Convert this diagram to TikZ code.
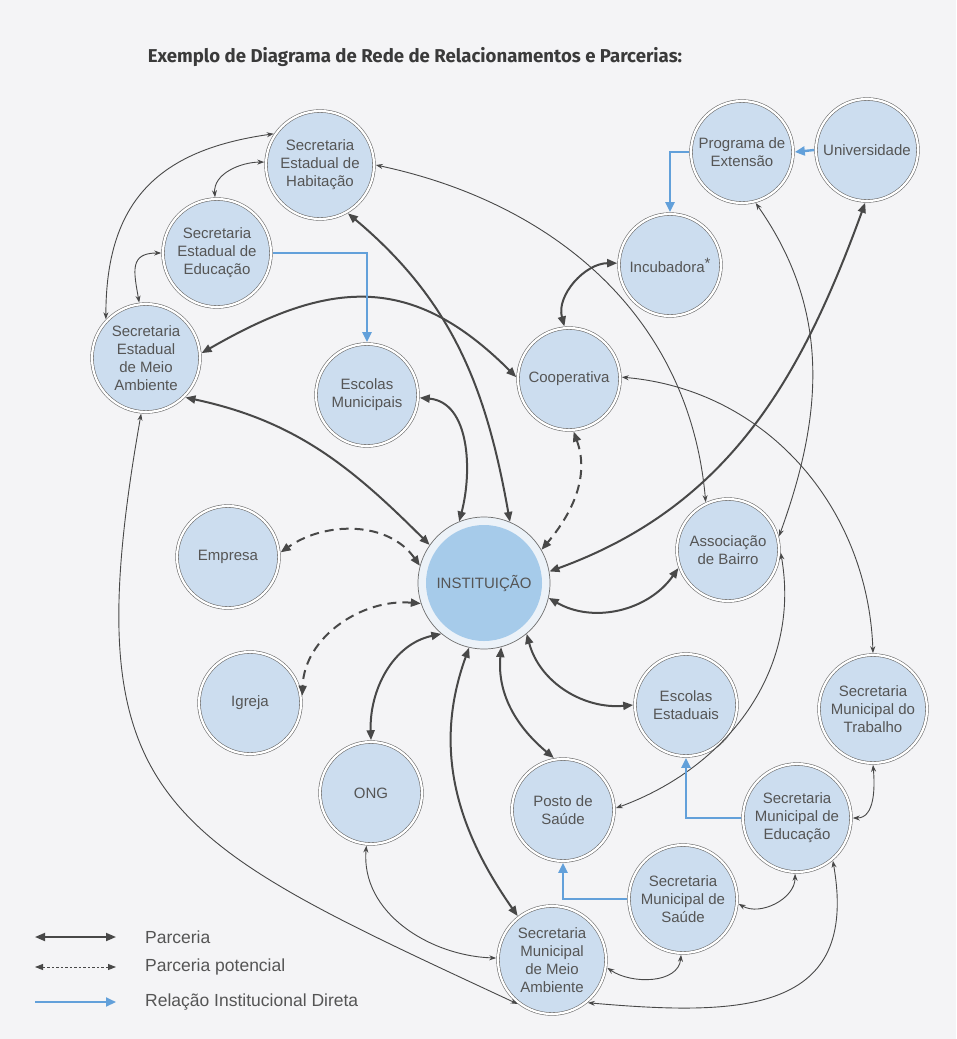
\documentclass[tikz,border=0pt]{standalone}
\usepackage{fontspec}
\setmainfont{Liberation Sans}
\newfontfamily\titlefont{Fira Sans}
\usetikzlibrary{arrows.meta}
\definecolor{bg}{RGB}{244,244,246}
\definecolor{nodefill}{RGB}{204,221,239}
\definecolor{instfill}{RGB}{166,203,234}
\definecolor{gapc}{RGB}{236,242,248}
\definecolor{ringc}{RGB}{110,110,110}
\definecolor{linec}{RGB}{72,72,72}
\definecolor{bluec}{RGB}{98,160,218}
\definecolor{txtc}{RGB}{85,85,85}
\definecolor{titc}{RGB}{58,58,58}
\tikzset{
  nd/.style={circle, draw=ringc, line width=0.6pt, double=white, double distance=2.2pt,
    fill=nodefill, minimum size=102pt, inner sep=0pt, outer sep=1.8pt, align=center,
    text=txtc, font=\fontsize{15}{18}\selectfont},
  sec/.style={nd, minimum size=108pt},
  pline/.style={draw=linec, line width=2pt, {Triangle[length=10pt,width=8pt]}-{Triangle[length=10pt,width=8pt]}},
  potline/.style={pline, dash pattern=on 9pt off 6pt},
  lnk/.style={draw=linec, line width=0.9pt, {Stealth[length=7pt,width=5pt]}-{Stealth[length=7pt,width=5pt]}},
  bline/.style={draw=bluec, line width=2.4pt, -{Triangle[length=10pt,width=9pt]}},
  legtxt/.style={anchor=west, text=txtc, font=\fontsize{17.5}{20}\selectfont, inner sep=0pt}
}
\begin{document}
\begin{tikzpicture}[x=1pt,y=1pt]
\fill[bg] (0,0) rectangle (956,-1039);
\useasboundingbox (0,0) rectangle (956,-1039);

\node[text=titc, font=\titlefont\bfseries\fontsize{18.6}{22}\selectfont] (title) at (415,-57) {Exemplo de Diagrama de Rede de Relacionamentos e Parcerias:};

% nodes
\node[sec] (hab) at (320,-165) {Secretaria\\Estadual de\\Habitação};
\node[sec] (seedu) at (217,-253) {Secretaria\\Estadual de\\Educação};
\node[sec] (sema) at (146,-358) {Secretaria\\Estadual\\de Meio\\Ambiente};
\node[nd] (em) at (367,-395) {Escolas\\Municipais};
\node[nd] (coop) at (569,-379) {Cooperativa};
\node[nd] (incub) at (670,-265) {Incubadora\raisebox{4pt}{*}};
\node[nd] (prog) at (742,-152) {Programa de\\Extensão};
\node[nd] (univ) at (867,-150) {Universidade};
\node[nd] (empresa) at (228,-557) {Empresa};
\node[circle, draw=ringc, line width=0.7pt, fill=gapc, minimum size=132pt, inner sep=0pt,
  outer sep=0.4pt, text=txtc, font=\fontsize{15}{18}\selectfont,
  path picture={\fill[instfill] (path picture bounding box.center) circle (58pt);}] (inst) at (484,-583) {INSTITUIÇÃO};
\node[nd] (assoc) at (728,-550) {Associação\\de Bairro};
\node[nd] (igreja) at (250,-703) {Igreja};
\node[nd] (ee) at (686,-705) {Escolas\\Estaduais};
\node[nd] (ong) at (371,-793) {ONG};
\node[nd] (posto) at (563,-810) {Posto de\\Saúde};
\node[sec] (smtrab) at (873,-709) {Secretaria\\Municipal do\\Trabalho};
\node[sec] (smedu) at (797,-818) {Secretaria\\Municipal de\\Educação};
\node[sec] (smsaude) at (683,-899) {Secretaria\\Municipal de\\Saúde};
\node[sec] (smma) at (552,-960) {Secretaria\\Municipal\\de Meio\\Ambiente};

% parcerias (thick)
\draw[pline] (em.-3) to[out=-5,in=75] (inst.112);
\draw[pline] (hab.-60) to[out=-40,in=100] (inst.67);
\draw[pline] (inst.10) to[out=20,in=-110] (univ.-92);
\draw[pline] (inst.-13) to[out=-30,in=-125] (assoc.-160);
\draw[pline] (inst.-50) to[out=-75,in=185] (ee.180);
\draw[pline] (inst.-75) to[out=-95,in=140] (posto.100);
\draw[pline] (inst.-103) to[out=-110,in=125] (smma.128);
\draw[pline] (inst.-130) to[out=-168,in=92] (ong.90);
\draw[pline] (sema.-45) to[out=-12,in=135] (inst.145);
\draw[pline] (sema.5) to[out=30,in=135,looseness=1.2] (coop.178);
\draw[pline] (coop.95) to[out=105,in=180] (incub.178);

% parcerias potenciais (dashed)
\draw[potline] (coop.-85) to[out=-70,in=50] (inst.30);
\draw[potline] (inst.-162) to[out=175,in=88] (igreja.8);
\draw[potline] (inst.165) to[out=125,in=35] (empresa.5);

% thin links
\draw[lnk] (hab.146) to[out=188,in=90,looseness=1.2] (sema.136);
\draw[lnk] (seedu.92) to[out=95,in=180] (hab.177);
\draw[lnk] (sema.97) to[out=100,in=180,looseness=1.5] (seedu.180);
\draw[lnk] (hab.0) to[out=-12,in=95] (assoc.115);
\draw[lnk] (prog.-75) to[out=-55,in=70] (assoc.15);
\draw[lnk] (coop.2) to[out=-5,in=92] (smtrab.90);
\draw[lnk] (assoc.-3) to[out=-80,in=20] (posto.2);
\draw[lnk] (sema.-95) to[out=-100,in=155,looseness=1.45] (smma.-128);
\draw[lnk] (ong.-95) to[out=-95,in=178] (smma.178);
\draw[lnk] (smma.-8) to[out=-35,in=-95] (smsaude.-92);
\draw[lnk] (smsaude.-5) to[out=-30,in=-90] (smedu.-92);
\draw[lnk] (smma.-50) to[out=-5,in=-80,looseness=1.4] (smedu.-50);
\draw[lnk] (smedu.0) to[out=0,in=-85] (smtrab.-90);

% direct institutional relations (blue)
\draw[bline] (seedu.east) -| (em.north);
\draw[bline] (prog.west) -| (incub.north);
\draw[bline] (univ.west) -- (prog.east);
\draw[bline] (smedu.west) -| (ee.south);
\draw[bline] (smsaude.west) -| (posto.south);

% legend
\coordinate (la1) at (35,-937); \coordinate (lb1) at (116,-937);
\coordinate (la2) at (35,-967); \coordinate (lb2) at (116,-967);
\coordinate (la3) at (35,-1002); \coordinate (lb3) at (116,-1002);
\draw[pline, line width=1.8pt] (la1) -- (lb1);
\draw[draw=linec, line width=0.9pt, dash pattern=on 2.5pt off 2pt, {Triangle[length=8pt,width=6pt]}-{Triangle[length=8pt,width=6pt]}] (la2) -- (lb2);
\draw[bline, line width=2pt] (la3) -- (lb3);
\node[legtxt] (lt1) at (145,-937) {Parceria};
\node[legtxt] (lt2) at (145,-967) {Parceria potencial};
\node[legtxt] (lt3) at (145,-1002) {Relação Institucional Direta};
\end{tikzpicture}
\end{document}
